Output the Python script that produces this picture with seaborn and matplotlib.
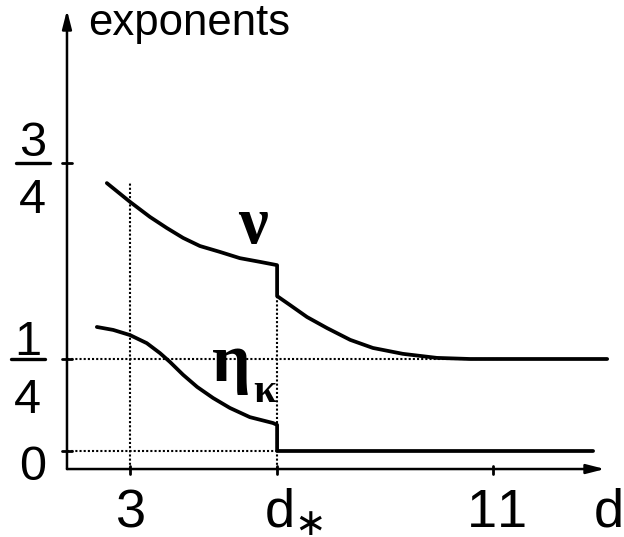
import matplotlib
matplotlib.use("Agg")
import matplotlib.pyplot as plt
import seaborn as sns

sns.set_style("white")
plt.rcParams["font.family"] = ["Liberation Sans", "DejaVu Sans"]
plt.rcParams["text.color"] = "black"

# critical dimension (schematic position on the d axis)
d_star = 6.24

# nu(d): decreasing, jumps at d*, then relaxes to 1/4
nu_d = [2.49, 3.0, 3.44, 3.81, 4.17, 4.54, 4.98, 5.42, 5.86, 6.24,
        6.24, 6.52, 6.90, 7.34, 7.85, 8.35, 9.01, 9.76, 10.49, 10.93, 13.51]
nu_vals = [0.728, 0.677, 0.636, 0.606, 0.579, 0.557, 0.541, 0.524, 0.514, 0.505,
           0.421, 0.397, 0.364, 0.334, 0.302, 0.280, 0.264, 0.253, 0.250, 0.250, 0.250]

# eta_kappa(d): decreasing, drops to 0 at d*
eta_d = [2.27, 2.63, 3.0, 3.37, 3.66, 3.88, 4.17, 4.48, 4.83, 5.20, 5.64, 6.15,
         6.24, 6.24, 13.2]
eta_vals = [0.337, 0.329, 0.315, 0.293, 0.266, 0.242, 0.207, 0.174, 0.144, 0.117,
            0.092, 0.076, 0.071, 0.0, 0.0]

x_ticks = [3, d_star, 11]
x_labels = [r"$\mathdefault{3}$", r"$\mathdefault{d}_{\ast}$", r"$\mathdefault{11}$"]
y_ticks = [0, 0.25, 0.783]

fig = plt.figure(figsize=(6.24, 5.37), dpi=100)
ax = fig.add_axes([0, 0, 1, 1])
ax.set_xlim(0.1366, 13.881)
ax.set_ylim(-0.2337, 1.2255)
ax.axis("off")

x0, y0 = 1.612, -0.049  # where the two axes meet

# axes with arrow heads
arrow = dict(arrowstyle="-|>,head_length=1.1,head_width=0.28", lw=1.8,
             color="black", shrinkA=0, shrinkB=0)
ax.annotate("", xy=(13.46, y0), xytext=(x0, y0), arrowprops=arrow)
ax.annotate("", xy=(x0, 1.198), xytext=(x0, y0), arrowprops=arrow)

# ticks
for xt in x_ticks:
    ax.plot([xt, xt], [y0 - 0.013, y0 + 0.007], color="black", lw=2)
for yt in y_ticks:
    ax.plot([x0 - 0.11, x0 + 0.11], [yt, yt], color="black", lw=2)

# dotted guide lines
dot = dict(color="black", lw=1.5, linestyle=(0, (1, 1)))
ax.plot([3, 3], [y0, 0.731], **dot)
ax.plot([d_star, d_star], [y0, 0.421], **dot)
ax.plot([x0, d_star], [0, 0], **dot)
ax.plot([x0, 11.2], [0.25, 0.25], **dot)

# curves
sns.lineplot(x=nu_d, y=nu_vals, sort=False, estimator=None, color="black",
             lw=2.7, ax=ax)
sns.lineplot(x=eta_d, y=eta_vals, sort=False, estimator=None, color="black",
             lw=2.7, ax=ax)

# curve labels (upright Greek)
greek = dict(family="Liberation Serif", fontweight="bold", va="baseline")
ax.text(5.71, 0.565, "ν", fontsize=48, ha="center", **greek)
ax.text(4.80, 0.19, "η", fontsize=49, ha="left", **greek)
ax.text(5.72, 0.133, "κ", fontsize=30, ha="left", **greek)

# axis title
ax.text(2.07, 1.130, "exponents", fontsize=31.5, ha="left", va="baseline")

# x tick labels
label_x = [3, 5.95, 11.05]
label_ha = ["center", "left", "center"]
for lx, lab, ha in zip(label_x, x_labels, label_ha):
    ax.text(lx, -0.206, lab, fontsize=39, ha=ha, va="baseline")
ax.text(13.2, -0.206, r"$\mathdefault{d}$", fontsize=39, ha="left", va="baseline")

# y tick labels (0 and stacked fractions)
ax.text(0.86, -0.079, "0", fontsize=35, ha="center", va="baseline")
frac_x = [0.75, 0.86]
frac_num = ["1", "3"]
frac_num_base = [0.261, 0.802]
frac_den_base = [0.103, 0.646]
bar_y = [0.25, 0.783]
for fx, num, nb, db, by in zip(frac_x, frac_num, frac_num_base, frac_den_base, bar_y):
    ax.text(fx, nb, num, fontsize=35, ha="center", va="baseline")
    ax.text(fx, db, "4", fontsize=35, ha="center", va="baseline")
    ax.plot([fx - 0.38, fx + 0.38], [by, by], color="black", lw=2.4)

fig.savefig("out.png", dpi=100)
